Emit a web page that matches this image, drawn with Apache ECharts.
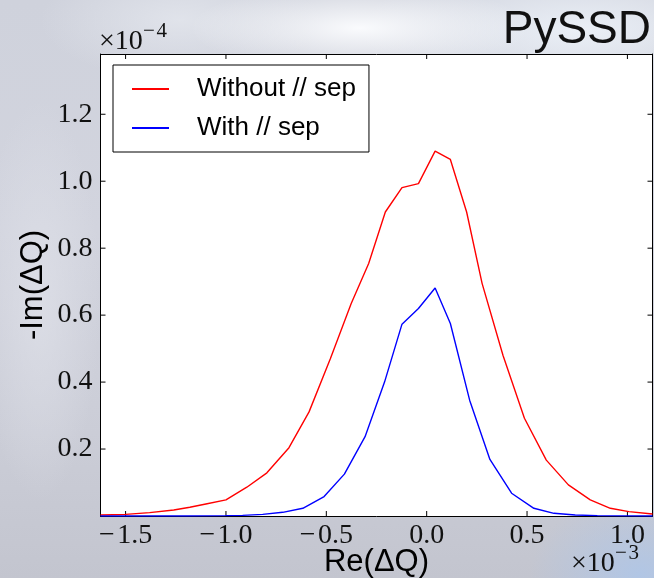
<!DOCTYPE html>
<html>
<head>
<meta charset="utf-8">
<script src="https://cdn.jsdelivr.net/npm/echarts@6/dist/echarts.min.js"></script>
<style>
  html, body { margin: 0; padding: 0; }
  #wrap {
    position: relative; width: 654px; height: 578px;
    background:
      radial-gradient(ellipse 170px 45px at 360px 28px, rgba(252,253,255,0.95), rgba(252,253,255,0)),
      radial-gradient(ellipse 220px 70px at 580px 30px, rgba(236,241,248,0.95), rgba(236,241,248,0)),
      radial-gradient(ellipse 140px 60px at 180px 20px, rgba(226,229,236,0.9), rgba(226,229,236,0)),
      radial-gradient(ellipse 110px 80px at 640px 575px, rgba(176,198,230,0.95), rgba(176,198,230,0)),
      radial-gradient(ellipse 60px 200px at 40px 300px, rgba(222,224,232,0.8), rgba(222,224,232,0)),
      linear-gradient(180deg, #cfd2dc 0%, #d2d4de 40%, #cbcdd7 75%, #c3c5cf 100%);
  }
  /* white panel behind the plotting area */
  #panel { position: absolute; left: 100px; top: 54px; width: 553px; height: 462px; background: #fff; }
  #chart { position: absolute; left: 0; top: 0; width: 654px; height: 578px; }
</style>
</head>
<body>
<div id="wrap"><div id="panel"></div><div id="chart"></div></div>
<script>
// Tune spread footprint: real part (units of 1e-3) vs -imaginary part (units of 1e-4)
const xWithout = [-1.625, -1.5, -1.38, -1.26, -1.18, -1.1, -1.0, -0.896, -0.796, -0.686, -0.586, -0.48, -0.376, -0.289, -0.206, -0.123, -0.041, 0.042, 0.118, 0.199, 0.276, 0.38, 0.487, 0.596, 0.706, 0.815, 0.915, 1.007, 1.125];
const yWithout = [0.003, 0.005, 0.010, 0.018, 0.026, 0.036, 0.048, 0.086, 0.129, 0.204, 0.311, 0.470, 0.635, 0.754, 0.908, 0.981, 0.993, 1.090, 1.065, 0.908, 0.695, 0.480, 0.292, 0.167, 0.093, 0.048, 0.023, 0.013, 0.006];

const xWith = [-1.625, -1.2, -1.0, -0.917, -0.817, -0.717, -0.617, -0.511, -0.41, -0.307, -0.21, -0.123, -0.041, 0.042, 0.118, 0.214, 0.315, 0.423, 0.534, 0.634, 0.74, 0.85, 1.125];
const yWith = [0.000, 0.000, 0.001, 0.002, 0.005, 0.011, 0.023, 0.058, 0.125, 0.237, 0.400, 0.573, 0.620, 0.681, 0.575, 0.346, 0.169, 0.068, 0.023, 0.008, 0.003, 0.001, 0.000];

const seriesNames = ['Without // sep', 'With // sep'];
const xTicks = [-1.5, -1.0, -0.5, 0.0, 0.5, 1.0];
const yTicks = [0.2, 0.4, 0.6, 0.8, 1.0, 1.2];

const xRange = [-1.625, 1.125];
const yRange = [0, 1.38];

const pairs = (xs, ys) => xs.map((x, i) => [x, ys[i]]);
const fmt = v => (v < 0 ? '\u2212\u200a' : '') + Math.abs(v).toFixed(1);

const serif = '"Liberation Serif", "Times New Roman", serif';
const sans = '"Liberation Sans", Arial, sans-serif';

const TICK_LEN = 5;
const frameLine = { show: true, onZero: false, lineStyle: { color: '#000', width: 1 } };

// Inward tick marks on all four sides of the frame, placed through the axis scales.
// Each item: [tick value, side] with side 0 = bottom, 1 = top, 2 = left, 3 = right.
const tickItems = []
  .concat(xTicks.map(v => [v, 0]), xTicks.map(v => [v, 1]))
  .concat(yTicks.map(v => [v, 2]), yTicks.map(v => [v, 3]));

function renderTick(params, api) {
  const v = api.value(0);
  const side = api.value(1);
  let p, q;
  if (side === 0) { p = api.coord([v, yRange[0]]); q = [p[0], p[1] - TICK_LEN]; }
  else if (side === 1) { p = api.coord([v, yRange[1]]); q = [p[0], p[1] + TICK_LEN]; }
  else if (side === 2) { p = api.coord([xRange[0], v]); q = [p[0] + TICK_LEN, p[1]]; }
  else { p = api.coord([xRange[1], v]); q = [p[0] - TICK_LEN, p[1]]; }
  return {
    type: 'line',
    shape: { x1: p[0], y1: p[1], x2: q[0], y2: q[1] },
    style: { stroke: '#000', lineWidth: 1 }
  };
}

const chart = echarts.init(document.getElementById('chart'), null, { renderer: 'canvas' });
chart.setOption({
  backgroundColor: 'transparent',
  animation: false,
  grid: {
    left: 100.5, right: 1.5, top: 54, bottom: 62,
    outerBoundsMode: 'none', containLabel: false, show: false
  },
  xAxis: [{
    type: 'value', position: 'bottom', min: xRange[0], max: xRange[1],
    axisLine: frameLine, splitLine: { show: false }, axisTick: { show: false },
    axisLabel: {
      customValues: xTicks, formatter: fmt, margin: 6,
      fontFamily: serif, fontSize: 28, color: '#111'
    },
    name: 'Re(\u0394Q)', nameLocation: 'middle', nameGap: 31, nameMoveOverlap: false,
    nameTextStyle: { fontFamily: sans, fontSize: 31, color: '#000' }
  }, {
    type: 'value', position: 'top', min: xRange[0], max: xRange[1],
    axisLine: frameLine, splitLine: { show: false }, axisTick: { show: false },
    axisLabel: { show: false }
  }],
  yAxis: [{
    type: 'value', position: 'left', min: yRange[0], max: yRange[1],
    axisLine: frameLine, splitLine: { show: false }, axisTick: { show: false },
    axisLabel: {
      customValues: yTicks, formatter: v => v.toFixed(1), margin: 8,
      fontFamily: serif, fontSize: 28, color: '#111'
    },
    name: '-Im(\u0394Q)', nameLocation: 'middle', nameGap: 52, nameRotate: 90, nameMoveOverlap: false,
    nameTextStyle: { fontFamily: sans, fontSize: 31, color: '#000' }
  }, {
    type: 'value', position: 'right', min: yRange[0], max: yRange[1],
    axisLine: frameLine, splitLine: { show: false }, axisTick: { show: false },
    axisLabel: { show: false }
  }],
  legend: {
    left: 113, top: 65, orient: 'vertical', z: 5,
    backgroundColor: '#fff', borderColor: '#000', borderWidth: 1, borderRadius: 0,
    padding: [11, 13, 11, 19],
    itemWidth: 37, itemHeight: 2, itemGap: 13, icon: 'rect',
    textStyle: { fontFamily: sans, fontSize: 26, lineHeight: 26, color: '#000', padding: [0, 0, 0, 23] },
    data: seriesNames
  },
  graphic: [
    { type: 'text', style: { text: 'PySSD', x: 651, y: 30, font: '46px ' + sans, textAlign: 'right', textVerticalAlign: 'middle', fill: '#111' } },
    { type: 'text', style: { text: '\u00d710', x: 99, y: 42, font: '28px ' + serif, textAlign: 'left', textVerticalAlign: 'middle', fill: '#111' } },
    { type: 'text', style: { text: '\u2212\u200a4', x: 143, y: 31, font: '21px ' + serif, textAlign: 'left', textVerticalAlign: 'middle', fill: '#111' } },
    { type: 'text', style: { text: '\u00d710', x: 571, y: 564, font: '28px ' + serif, textAlign: 'left', textVerticalAlign: 'middle', fill: '#111' } },
    { type: 'text', style: { text: '\u2212\u200a3', x: 615, y: 553, font: '21px ' + serif, textAlign: 'left', textVerticalAlign: 'middle', fill: '#111' } }
  ],
  series: [{
    name: 'frame ticks', type: 'custom', renderItem: renderTick, data: tickItems,
    silent: true, clip: false, z: 2, tooltip: { show: false }
  }, {
    name: seriesNames[0], type: 'line', data: pairs(xWithout, yWithout),
    symbol: 'none', color: '#ff0000', lineStyle: { color: '#ff0000', width: 1.4 }, z: 3
  }, {
    name: seriesNames[1], type: 'line', data: pairs(xWith, yWith),
    symbol: 'none', color: '#0000ff', lineStyle: { color: '#0000ff', width: 1.4 }, z: 4
  }]
});
</script>
</body>
</html>
